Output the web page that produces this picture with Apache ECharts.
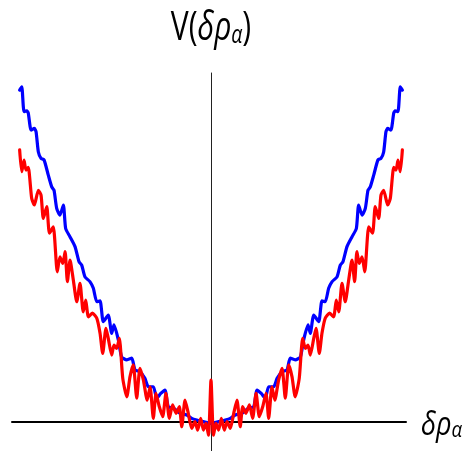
<!DOCTYPE html>
<html>
<head>
<meta charset="utf-8">
<script src="https://cdn.jsdelivr.net/npm/echarts@6/dist/echarts.min.js"></script>
<style>
html,body{margin:0;padding:0;background:#fff;}
#chart{width:467px;height:451px;}
</style>
</head>
<body>
<div id="chart"></div>
<script>
// x in arbitrary units (-100..100), y in arbitrary units (0..100)
const blueX = [-100.2,-99.1,-97.9,-96.5,-95.7,-94.2,-92.5,-91.6,-90.4,-89.0,-87.4,-85.2,-83.4,-82.2,-80.8,-79.1,-77.3,-76.1,-73.8,-71.2,-69.1,-67.7,-66.0,-63.4,-61.6,-59.8,-58.1,-56.4,-53.8,-52.0,-50.8,-48.5,-46.8,-44.1,-41.5,-39.8,-37.2,-34.6,-32.8,-30.2,-28.4,-26.3,-24.1,-22.4,-19.7,-16.2,-12.7,-10.1,-7.5,-4.0,-0.5,
  0.5,4.0,7.5,10.1,12.7,16.2,19.7,22.4,24.1,26.3,28.4,30.2,32.8,34.6,37.2,39.8,41.5,44.1,46.8,48.5,50.8,52.0,53.8,56.4,58.1,59.8,61.6,63.4,66.0,67.7,69.1,71.2,73.8,76.1,77.3,79.1,80.8,82.2,83.4,85.2,87.4,89.0,90.4,91.6,92.5,94.2,95.7,96.5,97.9,99.1,100.2];
const blueY = [98.8,99.8,92.4,92.6,92.0,86.9,87.4,86.4,80.4,78.5,78.0,73.5,70.0,69.0,63.6,61.6,64.6,57.6,55.1,52.2,47.7,46.7,43.2,41.8,39.8,35.8,36.1,29.9,31.8,26.4,28.9,24.4,19.4,18.5,19.0,15.5,15.0,13.0,10.5,10.5,7.1,8.5,9.5,4.6,4.1,2.6,2.1,1.1,0.6,0.1,-0.4,
  -0.4,0.1,0.6,1.1,2.1,2.6,4.1,4.6,9.5,8.5,7.1,10.5,10.5,13.0,15.0,15.5,19.0,18.5,19.4,24.4,28.9,26.4,31.8,29.9,36.1,35.8,39.8,41.8,43.2,46.7,47.7,52.2,55.1,57.6,64.6,61.6,63.6,69.0,70.0,73.5,78.0,78.5,80.4,86.4,87.4,86.9,92.0,92.6,92.4,99.8,98.8];
const redX = [-100.2,-99.1,-97.9,-96.9,-95.7,-93.9,-92.5,-90.4,-89.0,-87.8,-86.0,-84.6,-82.6,-80.5,-79.1,-77.6,-76.4,-75.2,-73.8,-72.1,-70.3,-68.6,-66.9,-65.6,-64.2,-62.1,-59.8,-58.1,-56.7,-55.0,-53.8,-52.0,-50.8,-49.4,-48.0,-46.2,-44.1,-42.4,-40.7,-38.9,-37.2,-35.4,-33.4,-31.9,-30.2,-28.8,-27.1,-25.3,-23.6,-21.8,-20.1,-18.3,-16.6,-15.3,-13.6,-11.9,-10.1,-8.4,-7.0,-5.4,-4.0,-2.6,-1.3,0,
  1.3,2.6,4.0,5.4,7.0,8.4,10.1,11.9,13.6,15.3,16.6,18.3,20.1,21.8,23.6,25.3,27.1,28.8,30.2,31.9,33.4,35.4,37.2,38.9,40.7,42.4,44.1,46.2,48.0,49.4,50.8,52.0,53.8,55.0,56.7,58.1,59.8,62.1,64.2,65.6,66.9,68.6,70.3,72.1,73.8,75.2,76.4,77.6,79.1,80.5,82.6,84.6,86.0,87.8,89.0,90.4,92.5,93.9,95.7,96.9,97.9,99.1,100.2];
const redY = [81.0,74.5,78.0,75.0,75.8,66.6,64.6,69.0,67.6,60.6,64.1,56.2,58.1,44.7,49.2,47.2,50.7,41.8,48.2,42.3,35.8,41.3,32.8,36.3,31.3,32.4,30.9,26.4,20.4,27.9,24.9,19.9,22.9,21.9,24.9,13.0,7.5,13.5,17.0,7.1,16.0,12.5,6.5,10.5,1.1,8.5,4.6,1.6,8.5,1.1,5.1,2.6,4.6,-1.4,6.5,2.6,-1.9,0.1,-2.4,1.1,-2.4,-0.4,-3.9,12.5,
  -3.9,-0.4,-2.4,1.1,-2.4,0.1,-1.9,2.6,6.5,-1.4,4.6,2.6,5.1,1.1,8.5,1.6,4.6,8.5,1.1,10.5,6.5,12.5,16.0,7.1,17.0,13.5,7.5,13.0,24.9,21.9,22.9,19.9,24.9,27.9,20.4,26.4,30.9,32.4,31.3,36.3,32.8,41.3,35.8,42.3,48.2,41.8,50.7,47.2,49.2,44.7,58.1,56.2,64.1,60.6,67.6,69.0,64.6,66.6,75.8,75.0,78.0,74.5,81.0];
const yLabel = ['V(', 'δρ', 'α', ')'];
const xLabel = ['δρ', 'α'];

function zip(xs, ys) {
  const n = Math.min(xs.length, ys.length);
  const out = [];
  for (let i = 0; i < n; i++) out.push([xs[i], ys[i]]);
  return out;
}

const FONT = '"Open Sans", "Noto Sans", sans-serif';
const chart = echarts.init(document.getElementById('chart'), null, {renderer: 'canvas'});
chart.setOption({
  animation: false,
  backgroundColor: '#ffffff',
  grid: {left: 12, right: 61, top: 73, bottom: 0, containLabel: false},
  xAxis: {
    type: 'value', min: -104.2, max: 102.1,
    axisLine: {show: true, onZero: true, lineStyle: {color: '#000', width: 2}},
    axisTick: {show: false}, axisLabel: {show: false}, splitLine: {show: false}
  },
  yAxis: {
    type: 'value', min: -8.63, max: 103.9,
    axisLine: {show: true, onZero: true, lineStyle: {color: '#222', width: 1}},
    axisTick: {show: false}, axisLabel: {show: false}, splitLine: {show: false}
  },
  series: [
    {type: 'line', data: zip(blueX, blueY), showSymbol: false, symbol: 'none', smooth: 0.2,
     lineStyle: {color: '#0000ff', width: 3.2, join: 'round', cap: 'round'}, z: 2},
    {type: 'line', data: zip(redX, redY), showSymbol: false, symbol: 'none', smooth: 0.2,
     lineStyle: {color: '#ff0000', width: 3.2, join: 'round', cap: 'round'}, z: 3}
  ],
  graphic: [
    {type: 'text', x: 211, y: 29, scaleX: 0.75, scaleY: 1,
     style: {
       text: '{n|' + yLabel[0] + '}{i|' + yLabel[1] + '}{s|' + yLabel[2] + '}{n|' + yLabel[3] + '}',
       align: 'center', verticalAlign: 'middle',
       rich: {
         n: {fontFamily: FONT, fontSize: 40, lineHeight: 40, verticalAlign: 'bottom', fill: '#000'},
         i: {fontFamily: FONT, fontSize: 40, lineHeight: 40, fontStyle: 'italic', verticalAlign: 'bottom', fill: '#000'},
         s: {fontFamily: FONT, fontSize: 26, lineHeight: 26, fontStyle: 'italic', verticalAlign: 'bottom', fill: '#000'}
       }
     }},
    {type: 'text', x: 421, y: 426, scaleX: 0.85, scaleY: 1,
     style: {
       text: '{i|' + xLabel[0] + '}{s|' + xLabel[1] + '}',
       align: 'left', verticalAlign: 'middle',
       rich: {
         i: {fontFamily: FONT, fontSize: 32, lineHeight: 32, fontStyle: 'italic', verticalAlign: 'bottom', fill: '#000'},
         s: {fontFamily: FONT, fontSize: 22, lineHeight: 22, fontStyle: 'italic', verticalAlign: 'bottom', fill: '#000'}
       }
     }}
  ]
});
</script>
</body>
</html>
